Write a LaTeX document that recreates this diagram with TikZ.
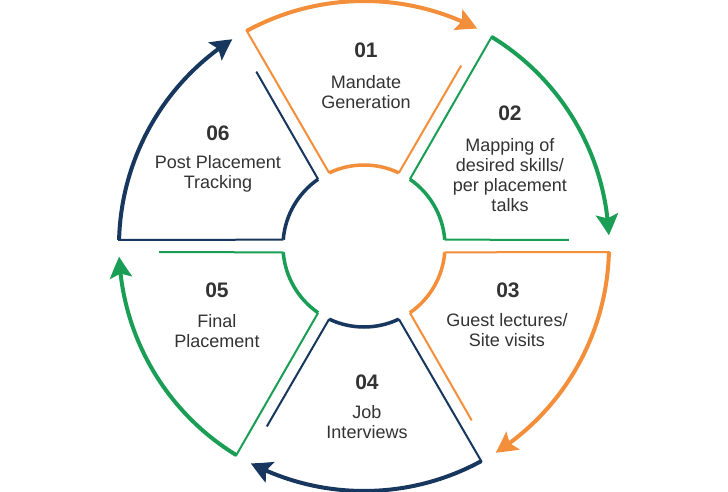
\documentclass[tikz,border=0pt]{standalone}
\usepackage{fontspec}
\setmainfont{Liberation Sans}
\usetikzlibrary{arrows.meta,bending}
\definecolor{cycorange}{HTML}{F38E3A}
\definecolor{cycgreen}{HTML}{1A9E55}
\definecolor{cycnavy}{HTML}{17375E}
\definecolor{textgray}{HTML}{333333}

\begin{document}
\begin{tikzpicture}[x=1pt,y=1pt,
  ringarrow/.style={line width=4pt,-{Stealth[length=21pt,width=22pt,inset=4pt,bend]}},
  innerarc/.style={line width=3.5pt},
  sideline/.style={line width=2pt},
  num/.style={font=\fontsize{21}{24}\selectfont\bfseries,text=textgray},
  lbl/.style={font=\fontsize{18}{20}\selectfont,text=textgray,align=center}]
\fill[white] (-364,-245) rectangle (364,246);
\useasboundingbox (-364,-245) rectangle (364,246);

% 01
\draw[sideline,cycorange] (118.6:246pt) -- (115.5:81pt);
\draw[innerarc,cycorange] (115.5:81pt) arc[start angle=115.5,end angle=64.5,radius=81pt];
\draw[sideline,cycorange] (64.5:81pt) -- (61.7:205pt);
\draw[ringarrow,cycorange] (118.6:245pt) arc[start angle=118.6,end angle=62.5,radius=245pt];

% 02
\draw[sideline,cycgreen] (58.6:246pt) -- (55.5:81pt);
\draw[innerarc,cycgreen] (55.5:81pt) arc[start angle=55.5,end angle=4.5,radius=81pt];
\draw[sideline,cycgreen] (4.5:81pt) -- (1.7:205pt);
\draw[ringarrow,cycgreen] (58.6:245pt) arc[start angle=58.6,end angle=2.5,radius=245pt];

% 03
\draw[sideline,cycorange] (-1.4:246pt) -- (-4.5:81pt);
\draw[innerarc,cycorange] (-4.5:81pt) arc[start angle=-4.5,end angle=-55.5,radius=81pt];
\draw[sideline,cycorange] (-55.5:81pt) -- (-58.3:205pt);
\draw[ringarrow,cycorange] (-1.4:245pt) arc[start angle=-1.4,end angle=-57.5,radius=245pt];

% 04
\draw[sideline,cycnavy] (-61.4:246pt) -- (-64.5:81pt);
\draw[innerarc,cycnavy] (-64.5:81pt) arc[start angle=-64.5,end angle=-115.5,radius=81pt];
\draw[sideline,cycnavy] (-115.5:81pt) -- (-118.3:205pt);
\draw[ringarrow,cycnavy] (-61.4:245pt) arc[start angle=-61.4,end angle=-117.5,radius=245pt];

% 05
\draw[sideline,cycgreen] (-121.4:246pt) -- (-124.5:81pt);
\draw[innerarc,cycgreen] (-124.5:81pt) arc[start angle=-124.5,end angle=-175.5,radius=81pt];
\draw[sideline,cycgreen] (-175.5:81pt) -- (-178.3:205pt);
\draw[ringarrow,cycgreen] (-121.4:245pt) arc[start angle=-121.4,end angle=-177.5,radius=245pt];

% 06
\draw[sideline,cycnavy] (178.6:246pt) -- (175.5:81pt);
\draw[innerarc,cycnavy] (175.5:81pt) arc[start angle=175.5,end angle=124.5,radius=81pt];
\draw[sideline,cycnavy] (124.5:81pt) -- (121.7:205pt);
\draw[ringarrow,cycnavy] (178.6:245pt) arc[start angle=178.6,end angle=122.5,radius=245pt];

% labels
\node[num] (n01) at (2,196) {01};
\node[lbl] (t01) at (2,154) {Mandate\\Generation};
\node[num] (n02) at (146,133) {02};
\node[lbl] (t02) at (146,71) {Mapping of\\desired skills/\\per placement\\talks};
\node[num] (n03) at (144,-44) {03};
\node[lbl] (t03) at (143,-84) {Guest lectures/\\Site visits};
\node[num] (n04) at (3,-136) {04};
\node[lbl] (t04) at (3,-176) {Job\\Interviews};
\node[num] (n05) at (-147,-44) {05};
\node[lbl] (t05) at (-147,-85) {Final\\Placement};
\node[num] (n06) at (-146,113) {06};
\node[lbl] (t06) at (-146,72) {Post Placement\\Tracking};
\end{tikzpicture}
\end{document}
